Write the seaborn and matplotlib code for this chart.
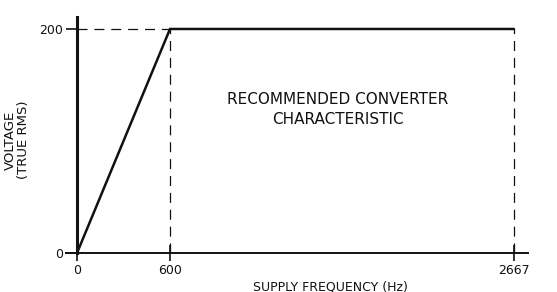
import numpy as np
import pandas as pd
import matplotlib
matplotlib.use("Agg")
import matplotlib.pyplot as plt
import seaborn as sns

# ---- data ----
freq = [0, 600, 2667]          # Hz
voltage = [0, 200, 200]        # V (true RMS)
x_ticks = [0, 600, 2667]
x_tick_labels = ["0", "600", "2667"]
y_ticks = [0, 200]
y_tick_labels = ["0", "200"]
title_text = "RECOMMENDED CONVERTER\nCHARACTERISTIC"
x_label = "SUPPLY FREQUENCY (Hz)"
y_label = "VOLTAGE\n(TRUE RMS)"

df = pd.DataFrame({"freq": freq, "voltage": voltage})

sns.set_style("ticks")
plt.rcParams["font.family"] = ["DejaVu Sans"]

# piecewise axis scale (0-600 is drawn compressed relative to 600-2667)
K = 1.0737
def fwd(x):
    x = np.asarray(x, dtype=float)
    return np.where(x <= 600, x, 600 + (x - 600) * K)
def inv(y):
    y = np.asarray(y, dtype=float)
    return np.where(y <= 600, y, 600 + (y - 600) / K)

fig = plt.figure(figsize=(5.57, 2.92), dpi=100)
ax = fig.add_axes([66/557, 1 - 253/292, (528-66)/557, (253-17)/292])
ax.set_xscale("function", functions=(fwd, inv))

ink = "#111111"
sns.lineplot(data=df, x="freq", y="voltage", ax=ax, color=ink, lw=1.8)

# dashed guide lines
ax.hlines(voltage[1], freq[0], freq[1], colors=ink, lw=0.9, linestyles=(0, (8, 5.5)))
ax.vlines(freq[1:], 0, voltage[1:], colors=ink, lw=0.9, linestyles=(0, (8, 5.5)))

ax.set_xlim(-71, float(inv(2910)))
ax.set_ylim(0, 210.7)

for s in ["top", "right"]:
    ax.spines[s].set_visible(False)
ax.spines["left"].set_position(("data", 0))
ax.spines["left"].set_linewidth(2.2)
ax.spines["bottom"].set_linewidth(1.4)
ax.spines["left"].set_color(ink)
ax.spines["bottom"].set_color(ink)

ax.set_xticks(x_ticks)
ax.set_xticklabels(x_tick_labels)
ax.set_yticks(y_ticks)
ax.set_yticklabels(y_tick_labels)
ax.tick_params(axis="x", direction="inout", length=12, width=1.2, pad=2,
               labelsize=9, colors=ink)
ax.tick_params(axis="y", direction="out", length=8, width=1.2, pad=2,
               labelsize=9, colors=ink)
ax.minorticks_off()

ax.set_xlabel(x_label, fontsize=9, color=ink)
ax.xaxis.set_label_coords((330-66)/462, (253-280)/236)
ax.set_ylabel(y_label, fontsize=9.5, color=ink, linespacing=1.0)
ax.yaxis.set_label_coords((30-66)/462, (253-140)/236)

ax.text((338-66)/462, (253-109.5)/236, title_text, transform=ax.transAxes,
        ha="center", va="center", multialignment="center",
        fontsize=11, color=ink, linespacing=1.35)

fig.savefig("out.png", dpi=100)
